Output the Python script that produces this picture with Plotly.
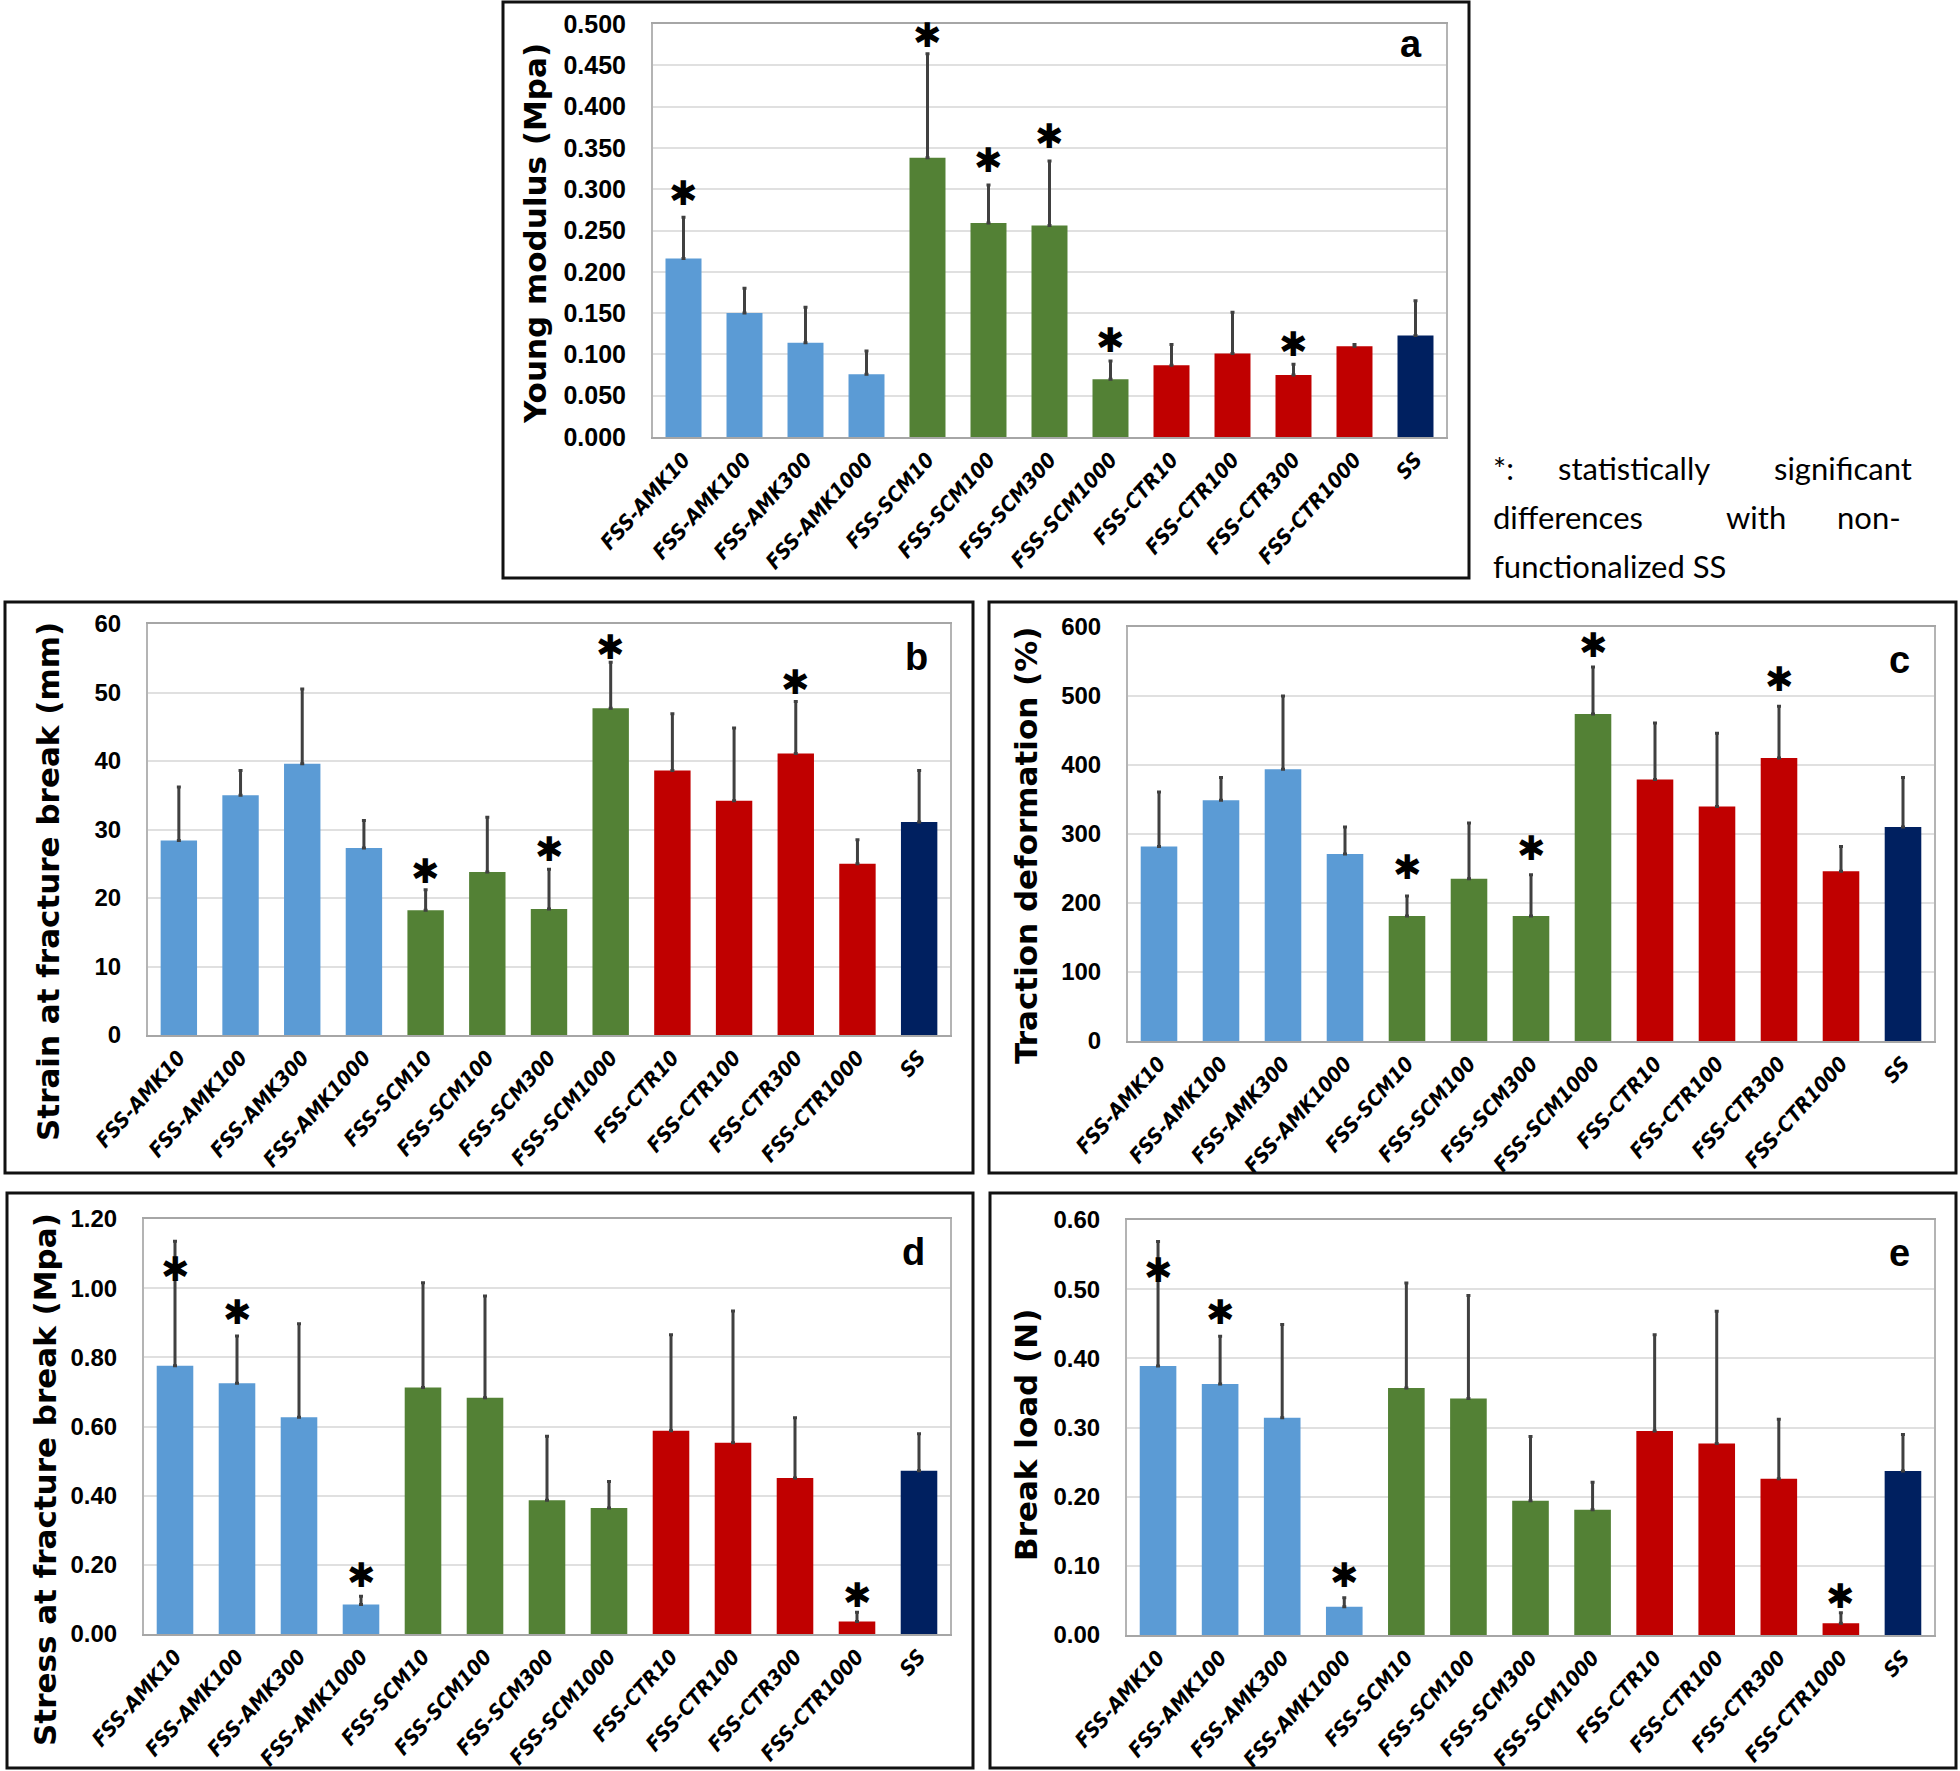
import plotly.graph_objects as go

# ---------------- data ----------------
categories = ["FSS-AMK10", "FSS-AMK100", "FSS-AMK300", "FSS-AMK1000",
              "FSS-SCM10", "FSS-SCM100", "FSS-SCM300", "FSS-SCM1000",
              "FSS-CTR10", "FSS-CTR100", "FSS-CTR300", "FSS-CTR1000", "SS"]
bar_colors = ["#5B9BD5"] * 4 + ["#538135"] * 4 + ["#C00000"] * 4 + ["#002060"]

young_mean = [0.216, 0.150, 0.114, 0.076, 0.338, 0.259, 0.256, 0.070, 0.087, 0.101, 0.075, 0.110, 0.123]
young_err = [0.050, 0.030, 0.043, 0.028, 0.126, 0.046, 0.078, 0.022, 0.025, 0.050, 0.013, 0.002, 0.042]
young_stars = {"FSS-AMK10": 0.295, "FSS-SCM10": 0.487, "FSS-SCM100": 0.335,
               "FSS-SCM300": 0.364, "FSS-SCM1000": 0.118, "FSS-CTR300": 0.112}

strain_mean = [28.4, 35.0, 39.6, 27.3, 18.2, 23.8, 18.4, 47.7, 38.6, 34.2, 41.1, 25.0, 31.1]
strain_err = [7.8, 3.6, 10.9, 4.0, 3.0, 8.0, 5.8, 6.7, 8.3, 10.6, 7.6, 3.5, 7.5]
strain_stars = {"FSS-SCM10": 23.9, "FSS-SCM300": 27.1, "FSS-SCM1000": 56.7, "FSS-CTR300": 51.6}

traction_mean = [282, 349, 394, 271, 181, 235, 181, 474, 379, 340, 410, 246, 310]
traction_err = [79, 33, 106, 39, 29, 81, 60, 68, 82, 106, 75, 36, 72]
traction_stars = {"FSS-SCM10": 252, "FSS-SCM300": 279, "FSS-SCM1000": 574, "FSS-CTR300": 525}

stress_mean = [0.776, 0.725, 0.627, 0.085, 0.713, 0.683, 0.387, 0.364, 0.588, 0.553, 0.451, 0.036, 0.472]
stress_err = [0.360, 0.137, 0.270, 0.024, 0.303, 0.294, 0.185, 0.077, 0.277, 0.381, 0.174, 0.027, 0.107]
stress_stars = {"FSS-AMK10": 1.054, "FSS-AMK100": 0.932, "FSS-AMK1000": 0.172, "FSS-CTR1000": 0.114}

load_mean = [0.389, 0.363, 0.314, 0.041, 0.357, 0.342, 0.194, 0.181, 0.295, 0.277, 0.226, 0.017, 0.237]
load_err = [0.180, 0.069, 0.135, 0.013, 0.152, 0.149, 0.093, 0.040, 0.139, 0.191, 0.086, 0.015, 0.053]
load_stars = {"FSS-AMK10": 0.528, "FSS-AMK100": 0.467, "FSS-AMK1000": 0.087, "FSS-CTR1000": 0.057}

y_titles = ["Young modulus (Mpa)", "Strain at fracture break (mm)", "Traction deformation (%)",
            "Stress at fracture break (Mpa)", "Break load (N)"]
panel_letters = ["a", "b", "c", "d", "e"]
note_lines = [["*:", "statistically", "significant"],
              ["differences", "with", "non-"],
              ["functionalized SS"]]

# ---------------- layout helpers ----------------
W, H = 1960, 1771
def px(x):
    return x / W
def py(y):
    return 1 - y / H

XTF = "DejaVu Sans Condensed, Liberation Sans Narrow, Arial Narrow, sans-serif"
YTF = "Liberation Sans, Arial, sans-serif"
TITLEF = "DejaVu Sans, Verdana, sans-serif"

panels = [
    dict(mean=young_mean, err=young_err, stars=young_stars, rng=[0, 0.5], dtick=0.05, fmt=".3f",
         dom_x=(653, 1446), dom_y=(24, 437), box=(503, 2, 1469, 578), tsize=25,
         title_xy=(535, 234), letter_xy=(1424, 44)),
    dict(mean=strain_mean, err=strain_err, stars=strain_stars, rng=[0, 60], dtick=10, fmt="d",
         dom_x=(148, 950), dom_y=(624, 1035), box=(5, 602, 973, 1173), tsize=24,
         title_xy=(48, 882), letter_xy=(930, 657)),
    dict(mean=traction_mean, err=traction_err, stars=traction_stars, rng=[0, 600], dtick=100, fmt="d",
         dom_x=(1128, 1934), dom_y=(627, 1041), box=(989, 602, 1956, 1173), tsize=24,
         title_xy=(1026, 846), letter_xy=(1912, 660)),
    dict(mean=stress_mean, err=stress_err, stars=stress_stars, rng=[0, 1.2], dtick=0.2, fmt=".2f",
         dom_x=(144, 950), dom_y=(1219, 1634), box=(7, 1193, 973, 1768), tsize=24,
         title_xy=(45, 1480), letter_xy=(927, 1252)),
    dict(mean=load_mean, err=load_err, stars=load_stars, rng=[0, 0.6], dtick=0.1, fmt=".2f",
         dom_x=(1127, 1934), dom_y=(1220, 1635), box=(990, 1193, 1956, 1768), tsize=24,
         title_xy=(1026, 1435), letter_xy=(1912, 1253)),
]

fig = go.Figure()
annotations = []
shapes = []

for i, p in enumerate(panels):
    k = "" if i == 0 else str(i + 1)
    fig.add_trace(go.Bar(
        x=categories, y=p["mean"], marker=dict(color=bar_colors, line=dict(width=0)),
        error_y=dict(type="data", array=p["err"], arrayminus=[0] * len(categories), symmetric=False,
                     color="#404040", thickness=3, width=2),
        xaxis="x" + k, yaxis="y" + k, showlegend=False))
    fig.update_layout(**{
        "xaxis" + k: dict(domain=[px(p["dom_x"][0]), px(p["dom_x"][1])], anchor="y" + k,
                          automargin=False,
                          showline=True, linecolor="#a6a6a6", linewidth=2, mirror=True,
                          showgrid=False, ticks="", tickangle=-48,
                          tickfont=dict(family=XTF, size=21, color="black", weight="bold", style="italic")),
        "yaxis" + k: dict(domain=[py(p["dom_y"][1]), py(p["dom_y"][0])], anchor="x" + k,
                          automargin=False,
                          range=p["rng"], dtick=p["dtick"], tickformat=p["fmt"],
                          showline=True, linecolor="#b4b4b4", linewidth=2, mirror=True,
                          showgrid=True, gridcolor="#e0e0e0", gridwidth=2, zeroline=False,
                          ticks="", ticklabelstandoff=20,
                          tickfont=dict(family=YTF, size=p["tsize"], color="black", weight="bold")),
    })
    for cat, yv in p["stars"].items():
        annotations.append(dict(x=cat, y=yv, xref="x" + k, yref="y" + k, text="✱", showarrow=False,
                                yanchor="middle", xanchor="center", yshift=0,
                                font=dict(family=TITLEF, size=34, color="black", weight="bold")))
    tx, ty = p["title_xy"]
    annotations.append(dict(x=px(tx), y=py(ty), xref="paper", yref="paper", text=y_titles[i],
                            textangle=-90, showarrow=False, xanchor="center", yanchor="middle",
                            font=dict(family=TITLEF, size=31, color="black", weight="bold")))
    lx, ly = p["letter_xy"]
    annotations.append(dict(x=px(lx), y=py(ly), xref="paper", yref="paper", text=panel_letters[i],
                            showarrow=False, xanchor="right", yanchor="middle",
                            font=dict(family="Liberation Sans, Arial, sans-serif", size=38,
                                      color="black", weight="bold")))
    x0, y0, x1, y1 = p["box"]
    shapes.append(dict(type="rect", xref="paper", yref="paper", x0=px(x0), x1=px(x1),
                       y0=py(y1), y1=py(y0), line=dict(color="#111111", width=3)))

# note text (justified look)
NOTEF = dict(family="Lato, Carlito, Calibri, sans-serif", size=31, color="black")
note_pos = [[(1491, "left"), (1634, "center"), (1914, "right")],
            [(1491, "left"), (1756, "center"), (1903, "right")],
            [(1491, "left")]]
note_y = [468, 517, 566]
for line, pos, yy in zip(note_lines, note_pos, note_y):
    for word, (xx, anc) in zip(line, pos):
        annotations.append(dict(x=px(xx), y=py(yy), xref="paper", yref="paper", text=word,
                                showarrow=False, xanchor=anc, yanchor="middle", font=NOTEF))

fig.update_layout(width=W, height=H, autosize=False, margin=dict(l=0, r=0, t=0, b=0, pad=0),
                  paper_bgcolor="white", plot_bgcolor="white", bargap=0.41,
                  annotations=annotations, shapes=shapes)

fig.write_html("out.html", config={"displayModeBar": False},
               post_script="document.body.style.margin='0';document.body.style.padding='0';"
                           "document.body.style.overflow='hidden';")
